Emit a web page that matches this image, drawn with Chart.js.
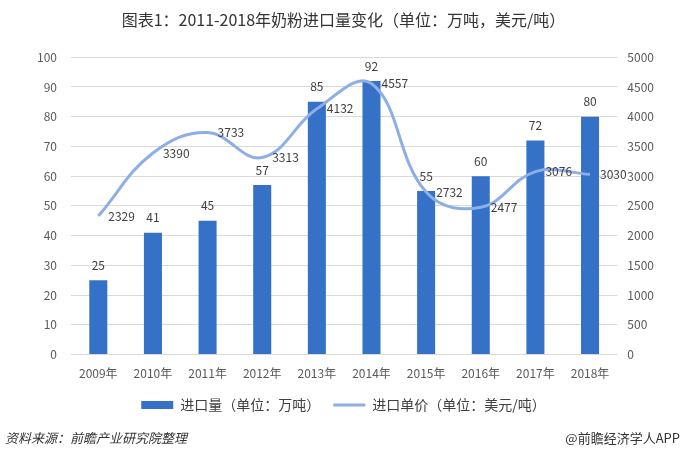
<!DOCTYPE html>
<html>
<head>
<meta charset="utf-8">
<script src="https://cdn.jsdelivr.net/npm/chart.js@4"></script>
<style>
  html, body { margin: 0; padding: 0; background: #fff; }
  #wrap { position: relative; width: 688px; height: 457px; }
  .foot { position: absolute; top: 428px; font-family: "Noto Sans CJK SC", sans-serif; font-size: 13px; color: #333; }
  #src { left: 5px; font-style: italic; }
  #brand { right: 8px; }
</style>
</head>
<body>
<div id="wrap">
  <canvas id="milkChart" width="688" height="457"></canvas>
  <div class="foot" id="src">资料来源：前瞻产业研究院整理</div>
  <div class="foot" id="brand">@前瞻经济学人APP</div>
</div>
<script>
// Data
const years = ['2009年', '2010年', '2011年', '2012年', '2013年', '2014年', '2015年', '2016年', '2017年', '2018年'];
const volume = [25, 41, 45, 57, 85, 92, 55, 60, 72, 80];
const unitPrice = [2329, 3390, 3733, 3313, 4132, 4557, 2732, 2477, 3076, 3030];

const FONT = '"Noto Sans CJK SC", "Noto Sans", sans-serif';
const TEXT = '#404040';

// Draw value labels: above the bars, right of the line points
const valueLabels = {
    id: 'valueLabels',
    afterDatasetsDraw(chart) {
        const ctx = chart.ctx;
        ctx.save();
        ctx.font = '12px ' + FONT;
        ctx.fillStyle = TEXT;
        // dataset 1 = bars
        chart.getDatasetMeta(1).data.forEach((bar, i) => {
            ctx.textAlign = 'center';
            ctx.textBaseline = 'bottom';
            ctx.fillText(volume[i], bar.x, bar.y - 9);
        });
        // dataset 0 = line
        chart.getDatasetMeta(0).data.forEach((pt, i) => {
            ctx.textAlign = 'left';
            ctx.textBaseline = 'middle';
            ctx.fillText(unitPrice[i], pt.x + 10, pt.y);
        });
        ctx.restore();
    }
};

const ctx = document.getElementById('milkChart').getContext('2d');
new Chart(ctx, {
    data: {
        labels: years,
        datasets: [{
            type: 'line',
            label: '进口单价（单位：美元/吨）',
            data: unitPrice,
            yAxisID: 'yPrice',
            borderColor: '#8eaee6',
            backgroundColor: '#8eaee6',
            borderWidth: 3,
            pointRadius: 0,
            tension: 0.4,
            pointStyle: 'line',
            order: 0
        }, {
            type: 'bar',
            label: '进口量（单位：万吨）',
            data: volume,
            yAxisID: 'yVol',
            backgroundColor: '#3471c7',
            borderWidth: 0,
            barPercentage: 0.33,
            categoryPercentage: 1,
            pointStyle: 'rect',
            order: 1
        }]
    },
    options: {
        responsive: false,
        animation: false,
        layout: { padding: { left: 23, right: 24, top: 0, bottom: 35 } },
        scales: {
            x: {
                grid: { display: false },
                border: { display: false },
                ticks: { color: '#595959', font: { family: FONT, size: 12 }, padding: 4 }
            },
            yVol: {
                position: 'left',
                min: 0, max: 100,
                ticks: { stepSize: 10, color: '#595959', font: { family: FONT, size: 12 }, padding: 14 },
                grid: { color: '#d9d9d9', drawTicks: false },
                border: { display: false }
            },
            yPrice: {
                position: 'right',
                min: 0, max: 5000,
                ticks: {
                    stepSize: 500,
                    color: '#595959',
                    font: { family: FONT, size: 12 },
                    padding: 10,
                    callback: v => String(v)
                },
                grid: { display: false, drawTicks: false },
                border: { display: false }
            }
        },
        plugins: {
            title: {
                display: true,
                text: '图表1：2011-2018年奶粉进口量变化（单位：万吨，美元/吨）',
                color: '#333',
                font: { family: FONT, size: 16, weight: 'normal' },
                padding: { top: 10, bottom: 28 }
            },
            legend: {
                position: 'bottom',
                reverse: true,
                labels: {
                    usePointStyle: true,
                    pointStyleWidth: 32,
                    boxHeight: 8,
                    padding: 13,
                    color: TEXT,
                    font: { family: FONT, size: 14 }
                }
            },
            tooltip: { enabled: false }
        }
    },
    plugins: [valueLabels]
});
</script>
</body>
</html>
